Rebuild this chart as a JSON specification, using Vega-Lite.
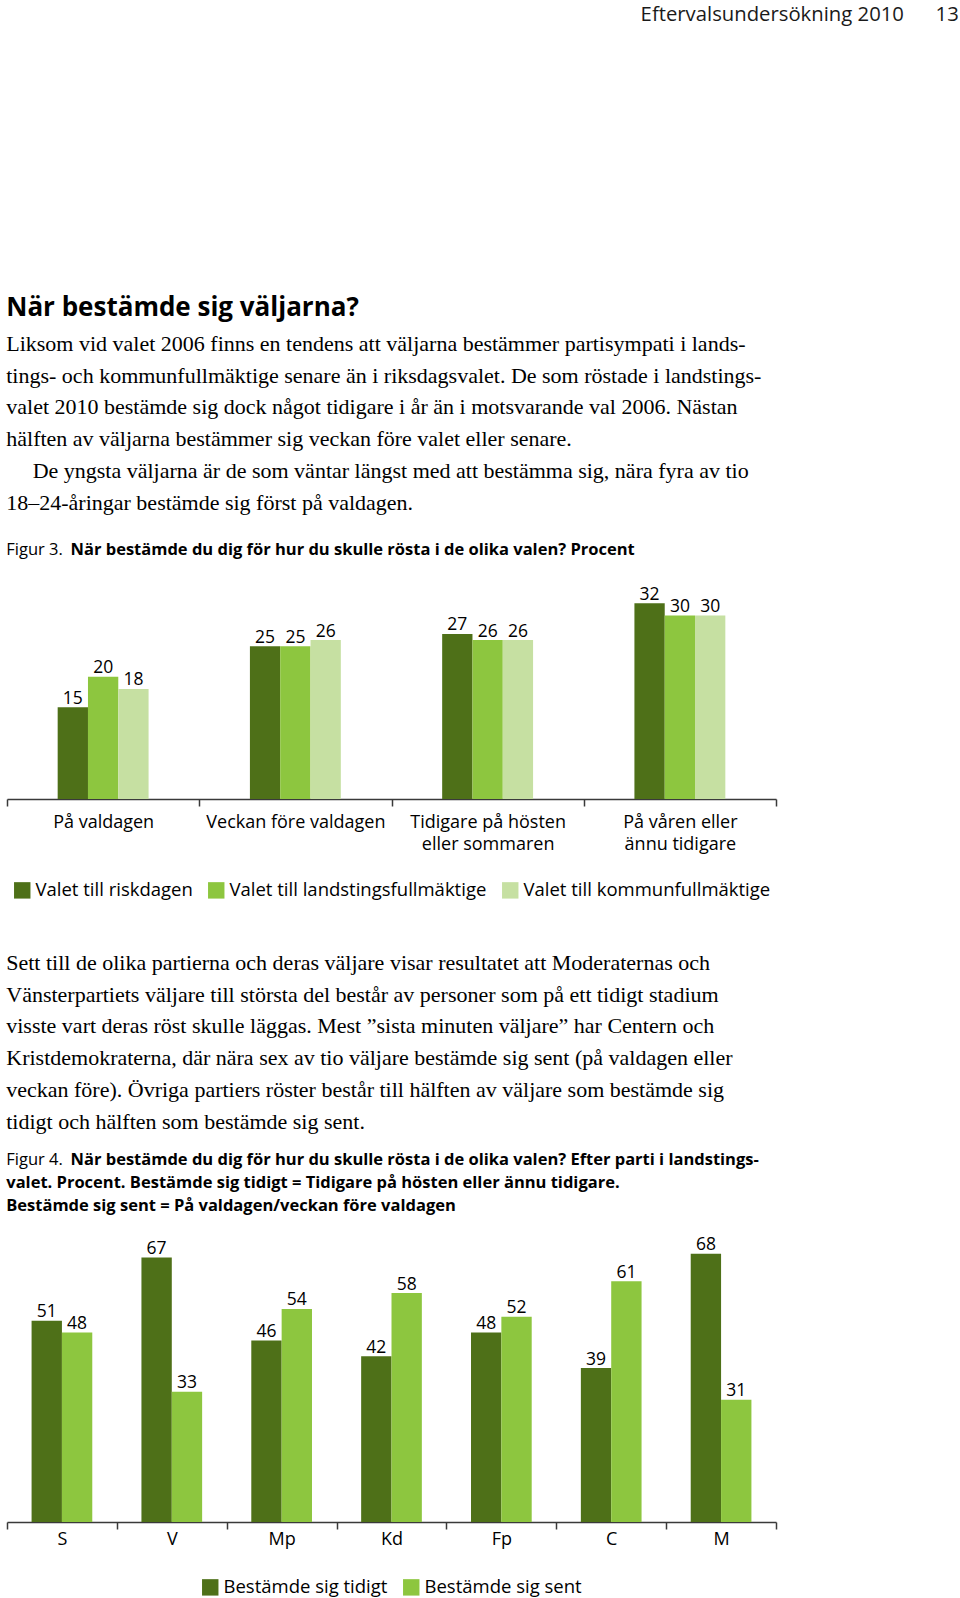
{
  "$schema": "https://vega.github.io/schema/vega-lite/v6.json",
  "background": "white",
  "padding": {"left": 6, "top": 4, "right": 0, "bottom": 0},
  "title": {
    "text": "Eftervalsundersökning 2010\u00a0\u00a0\u00a0\u00a0\u00a0\u00a013",
    "anchor": "end", "frame": "bounds", "dx": 182,
    "font": "Open Sans", "fontSize": 20.3, "fontWeight": "normal", "color": "#1a1a1a",
    "offset": 270
  },
  "config": {
    "view": {"stroke": null},
    "font": "Open Sans",
    "legend": {
      "symbolType": "square", "symbolSize": 270, "symbolStrokeWidth": 0,
      "labelFont": "Open Sans", "labelFontSize": 18.5, "labelColor": "#000",
      "columnPadding": 14, "labelOffset": 4, "labelLimit": 0,
      "layout": {"bottom": {"anchor": "middle"}}
    }
  },
  "resolve": {
    "scale": {"color": "independent", "xOffset": "independent", "x": "independent", "y": "independent"},
    "legend": {"color": "independent"}
  },
  "spacing": 52,
  "vconcat": [
    {
      "title": {
        "text": "När bestämde sig väljarna?",
        "subtitle": [
          "Liksom vid valet 2006 finns en tendens att väljarna bestämmer partisympati i lands-",
          "tings- och kommunfullmäktige senare än i riksdagsvalet. De som röstade i landstings-",
          "valet 2010 bestämde sig dock något tidigare i år än i motsvarande val 2006. Nästan",
          "hälften av väljarna bestämmer sig veckan före valet eller senare.",
          "\u200b\u00a0\u00a0\u00a0\u00a0\u2009De yngsta väljarna är de som väntar längst med att bestämma sig, nära fyra av tio",
          "18–24-åringar bestämde sig först på valdagen."
        ],
        "anchor": "start",
        "font": "Open Sans", "fontSize": 26, "fontWeight": "bold", "color": "#000",
        "subtitleFont": "Liberation Serif", "subtitleFontSize": 22, "subtitleFontWeight": "normal",
        "subtitleColor": "#000", "subtitleLineHeight": 31.7, "subtitlePadding": 13,
        "offset": 28
      },
      "vconcat": [
        {
          "title": {
            "text": "Figur 3.",
            "subtitle": "\u200b\u00a0\u00a0\u00a0\u00a0\u00a0\u00a0\u00a0\u00a0\u00a0\u00a0\u00a0\u00a0\u00a0\u00a0\u00a0När bestämde du dig för hur du skulle rösta i de olika valen? Procent",
            "anchor": "start",
            "font": "Open Sans", "fontSize": 16.5, "fontWeight": "normal", "color": "#000",
            "subtitleFont": "Open Sans", "subtitleFontSize": 16.5, "subtitleFontWeight": "bold",
            "subtitleColor": "#000", "subtitlePadding": -16.5,
            "offset": 27
          },
          "width": 769,
          "height": 214,
          "data": {
            "values": [
              {"tid": "På valdagen", "val": "Valet till riskdagen", "procent": 15},
              {"tid": "På valdagen", "val": "Valet till landstingsfullmäktige", "procent": 20},
              {"tid": "På valdagen", "val": "Valet till kommunfullmäktige", "procent": 18},
              {"tid": "Veckan före valdagen", "val": "Valet till riskdagen", "procent": 25},
              {"tid": "Veckan före valdagen", "val": "Valet till landstingsfullmäktige", "procent": 25},
              {"tid": "Veckan före valdagen", "val": "Valet till kommunfullmäktige", "procent": 26},
              {"tid": "Tidigare på hösten eller sommaren", "val": "Valet till riskdagen", "procent": 27},
              {"tid": "Tidigare på hösten eller sommaren", "val": "Valet till landstingsfullmäktige", "procent": 26},
              {"tid": "Tidigare på hösten eller sommaren", "val": "Valet till kommunfullmäktige", "procent": 26},
              {"tid": "På våren eller ännu tidigare", "val": "Valet till riskdagen", "procent": 32},
              {"tid": "På våren eller ännu tidigare", "val": "Valet till landstingsfullmäktige", "procent": 30},
              {"tid": "På våren eller ännu tidigare", "val": "Valet till kommunfullmäktige", "procent": 30}
            ]
          },
          "encoding": {
            "x": {
              "field": "tid", "type": "nominal",
              "sort": ["På valdagen", "Veckan före valdagen", "Tidigare på hösten eller sommaren", "På våren eller ännu tidigare"],
              "scale": {"paddingInner": 0, "paddingOuter": 0},
              "axis": {
                "title": null, "tickBand": "extent", "labelAngle": 0,
                "domainColor": "#3a3a3a", "domainWidth": 1.5,
                "tickColor": "#3a3a3a", "tickWidth": 1.5, "tickSize": 7,
                "labelFont": "Open Sans", "labelFontSize": 18, "labelColor": "#000",
                "labelPadding": 7, "labelBaseline": "top", "labelLineHeight": 22, "labelLimit": 0,
                "labelExpr": "datum.value == 'Tidigare på hösten eller sommaren' ? ['Tidigare på hösten', 'eller sommaren'] : datum.value == 'På våren eller ännu tidigare' ? ['På våren eller', 'ännu tidigare'] : datum.label"
              }
            },
            "xOffset": {
              "field": "val", "type": "nominal",
              "scale": {
                "domain": ["", "Valet till riskdagen", "Valet till landstingsfullmäktige", "Valet till kommunfullmäktige", " "],
                "paddingInner": 0, "paddingOuter": 0.672
              }
            },
            "y": {"field": "procent", "type": "quantitative", "scale": {"domain": [0, 35]}, "axis": null}
          },
          "layer": [
            {
              "mark": {"type": "bar"},
              "encoding": {
                "color": {
                  "field": "val", "type": "nominal",
                  "scale": {
                    "domain": ["Valet till riskdagen", "Valet till landstingsfullmäktige", "Valet till kommunfullmäktige"],
                    "range": ["#4e7018", "#8dc63f", "#c6e0a2"]
                  },
                  "legend": {"orient": "bottom", "direction": "horizontal", "title": null, "offset": 28}
                }
              }
            },
            {
              "mark": {"type": "text", "baseline": "alphabetic", "dy": -3.5, "font": "Open Sans", "fontSize": 17.5, "color": "#000"},
              "encoding": {"text": {"field": "procent", "type": "quantitative"}}
            }
          ]
        }
      ]
    },
    {
      "title": {
        "text": [
          "Sett till de olika partierna och deras väljare visar resultatet att Moderaternas och",
          "Vänsterpartiets väljare till största del består av personer som på ett tidigt stadium",
          "visste vart deras röst skulle läggas. Mest ”sista minuten väljare” har Centern och",
          "Kristdemokraterna, där nära sex av tio väljare bestämde sig sent (på valdagen eller",
          "veckan före). Övriga partiers röster består till hälften av väljare som bestämde sig",
          "tidigt och hälften som bestämde sig sent."
        ],
        "anchor": "start",
        "font": "Liberation Serif", "fontSize": 22, "fontWeight": "normal", "color": "#000",
        "lineHeight": 31.7,
        "offset": 18
      },
      "vconcat": [
        {
          "title": {
            "text": "Figur 4.",
            "subtitle": [
              "\u200b\u00a0\u00a0\u00a0\u00a0\u00a0\u00a0\u00a0\u00a0\u00a0\u00a0\u00a0\u00a0\u00a0\u00a0\u00a0När bestämde du dig för hur du skulle rösta i de olika valen? Efter parti i landstings-",
              "valet. Procent. Bestämde sig tidigt = Tidigare på hösten eller ännu tidigare.",
              "Bestämde sig sent = På valdagen/veckan före valdagen"
            ],
            "anchor": "start",
            "font": "Open Sans", "fontSize": 16.5, "fontWeight": "normal", "color": "#000",
            "subtitleFont": "Open Sans", "subtitleFontSize": 16.5, "subtitleFontWeight": "bold",
            "subtitleColor": "#000", "subtitlePadding": -16.5, "subtitleLineHeight": 23,
            "offset": 12
          },
          "width": 769,
          "height": 296,
          "data": {
            "values": [
              {"parti": "S", "tidpunkt": "Bestämde sig tidigt", "procent": 51},
              {"parti": "S", "tidpunkt": "Bestämde sig sent", "procent": 48},
              {"parti": "V", "tidpunkt": "Bestämde sig tidigt", "procent": 67},
              {"parti": "V", "tidpunkt": "Bestämde sig sent", "procent": 33},
              {"parti": "Mp", "tidpunkt": "Bestämde sig tidigt", "procent": 46},
              {"parti": "Mp", "tidpunkt": "Bestämde sig sent", "procent": 54},
              {"parti": "Kd", "tidpunkt": "Bestämde sig tidigt", "procent": 42},
              {"parti": "Kd", "tidpunkt": "Bestämde sig sent", "procent": 58},
              {"parti": "Fp", "tidpunkt": "Bestämde sig tidigt", "procent": 48},
              {"parti": "Fp", "tidpunkt": "Bestämde sig sent", "procent": 52},
              {"parti": "C", "tidpunkt": "Bestämde sig tidigt", "procent": 39},
              {"parti": "C", "tidpunkt": "Bestämde sig sent", "procent": 61},
              {"parti": "M", "tidpunkt": "Bestämde sig tidigt", "procent": 68},
              {"parti": "M", "tidpunkt": "Bestämde sig sent", "procent": 31}
            ]
          },
          "encoding": {
            "x": {
              "field": "parti", "type": "nominal",
              "sort": ["S", "V", "Mp", "Kd", "Fp", "C", "M"],
              "scale": {"paddingInner": 0, "paddingOuter": 0},
              "axis": {
                "title": null, "tickBand": "extent", "labelAngle": 0,
                "domainColor": "#3a3a3a", "domainWidth": 1.5,
                "tickColor": "#3a3a3a", "tickWidth": 1.5, "tickSize": 7,
                "labelFont": "Open Sans", "labelFontSize": 18, "labelColor": "#000",
                "labelPadding": 1.5, "labelBaseline": "top"
              }
            },
            "xOffset": {
              "field": "tidpunkt", "type": "nominal",
              "sort": ["Bestämde sig tidigt", "Bestämde sig sent"],
              "scale": {"paddingInner": 0, "paddingOuter": 0.81}
            },
            "y": {"field": "procent", "type": "quantitative", "scale": {"domain": [0, 75]}, "axis": null}
          },
          "layer": [
            {
              "mark": {"type": "bar"},
              "encoding": {
                "color": {
                  "field": "tidpunkt", "type": "nominal",
                  "scale": {
                    "domain": ["Bestämde sig tidigt", "Bestämde sig sent"],
                    "range": ["#4e7018", "#8dc63f"]
                  },
                  "legend": {"orient": "bottom", "direction": "horizontal", "title": null, "offset": 29}
                }
              }
            },
            {
              "mark": {"type": "text", "baseline": "alphabetic", "dy": -3.5, "font": "Open Sans", "fontSize": 17.5, "color": "#000"},
              "encoding": {"text": {"field": "procent", "type": "quantitative"}}
            }
          ]
        }
      ]
    }
  ]
}
